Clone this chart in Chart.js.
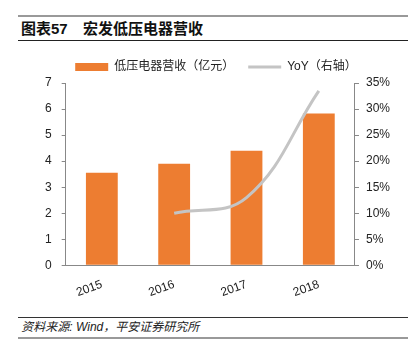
<!DOCTYPE html>
<html>
<head>
<meta charset="utf-8">
<script src="https://cdn.jsdelivr.net/npm/chart.js@4/dist/chart.umd.min.js"></script>
<style>
  body { margin: 0; background: #fff; font-family: "Liberation Sans", "Noto Sans CJK SC", sans-serif; }
  #wrap { position: relative; width: 414px; height: 352px; }
  #title { position: absolute; left: 18px; top: 15px; width: 390px; height: 23px;
           border-top: 2px solid #999; border-bottom: 1px solid #222;
           font-size: 15px; font-weight: bold; line-height: 23px; color: #111; }
  #title span { display: inline-block; width: 62px; padding-left: 3px; }
  #source { position: absolute; left: 18px; top: 317px; width: 390px; height: 19px;
            border-top: 1px solid #333; border-bottom: 2px solid #999;
            font-size: 12px; font-style: italic; line-height: 19px; color: #222; }
  #box { position: absolute; left: 0; top: 44px; width: 414px; height: 260px; }
</style>
</head>
<body>
<div id="wrap">
  <div id="title"><span>图表57</span>宏发低压电器营收</div>
  <div id="box"><canvas id="chart"></canvas></div>
  <div id="source">&nbsp;资料来源: Wind，平安证券研究所</div>
</div>
<script>
var years = ['2015', '2016', '2017', '2018'];
var revenue = [3.55, 3.9, 4.4, 5.83];      // 亿元
var yoy = [null, 10.0, 13.0, 33.5];        // %
var leftTicks = [0, 1, 2, 3, 4, 5, 6, 7];
var rightTicks = [0, 5, 10, 15, 20, 25, 30, 35];

var ctx = document.getElementById('chart').getContext('2d');
Chart.defaults.font.family = '"Liberation Sans", "Noto Sans CJK SC", sans-serif';
Chart.defaults.color = '#222';

var myChart = new Chart(ctx, {
    type: 'bar',
    data: {
        labels: years,
        datasets: [{
            type: 'line',
            label: 'YoY（右轴）',
            data: yoy,
            yAxisID: 'y1',
            borderColor: '#C4C4C4',
            backgroundColor: '#C4C4C4',
            borderWidth: 3,
            pointRadius: 0,
            tension: 0.4,
            order: 0
        }, {
            label: '低压电器营收（亿元）',
            data: revenue,
            yAxisID: 'y',
            backgroundColor: '#ED7D31',
            barPercentage: 0.44,
            categoryPercentage: 1.0,
            order: 1
        }]
    },
    options: {
        responsive: true,
        maintainAspectRatio: false,
        animation: false,
        layout: { padding: { left: 35, right: 17, top: 3, bottom: 0 } },
        plugins: {
            tooltip: { enabled: false },
            legend: {
                position: 'top',
                reverse: true,
                labels: {
                    usePointStyle: true,
                    pointStyleWidth: 33,
                    boxHeight: 8,
                    padding: 14,
                    font: { size: 12 },
                    generateLabels: function (chart) {
                        var items = Chart.defaults.plugins.legend.labels.generateLabels(chart);
                        items.forEach(function (it) {
                            it.pointStyle = it.datasetIndex === 0 ? 'line' : 'rect';
                            if (it.datasetIndex === 0) { it.lineWidth = 3; }
                        });
                        return items;
                    }
                }
            }
        },
        scales: {
            x: {
                grid: { display: false },
                border: { color: '#888' },
                ticks: { minRotation: 20, maxRotation: 20, font: { size: 12 }, padding: 4 }
            },
            y: {
                position: 'left',
                min: 0, max: 7,
                afterBuildTicks: function (s) { s.ticks = leftTicks.map(function (v) { return { value: v }; }); },
                grid: { drawOnChartArea: false, tickLength: 4, color: '#888' },
                border: { color: '#888' },
                ticks: { font: { size: 12 }, padding: 10 }
            },
            y1: {
                position: 'right',
                min: 0, max: 35,
                afterBuildTicks: function (s) { s.ticks = rightTicks.map(function (v) { return { value: v }; }); },
                grid: { drawOnChartArea: false, tickLength: 4, color: '#888' },
                border: { color: '#888' },
                ticks: { font: { size: 12 }, padding: 7, callback: function (v) { return v + '%'; } }
            }
        }
    }
});
</script>
</body>
</html>
